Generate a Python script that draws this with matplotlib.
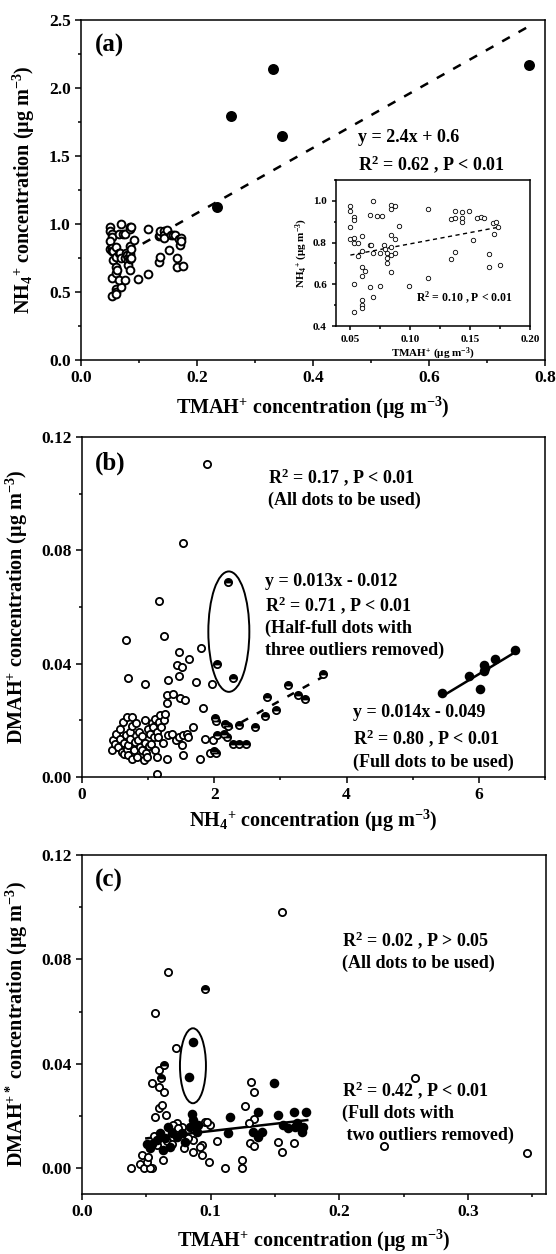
import matplotlib

matplotlib.use("Agg")
import matplotlib.pyplot as plt
from matplotlib.patches import Ellipse
from matplotlib.ticker import MultipleLocator, FormatStrFormatter
import numpy as np

W, H = 556, 1254

# ---- panel (a): TMAH+ vs NH4+ ----
tmah_a_open = [0.050, 0.050, 0.053, 0.053, 0.050, 0.050, 0.053, 0.053, 0.056, 0.056,
               0.053, 0.053, 0.060, 0.060, 0.060, 0.060, 0.062, 0.060, 0.060, 0.060,
               0.066, 0.067, 0.066, 0.069, 0.069, 0.069, 0.066, 0.072, 0.076, 0.075,
               0.075, 0.078, 0.079, 0.081, 0.081, 0.081, 0.084, 0.084, 0.087, 0.084,
               0.084, 0.084, 0.084, 0.087, 0.087, 0.091, 0.099, 0.115, 0.115, 0.134,
               0.134, 0.137, 0.137, 0.137, 0.143, 0.143, 0.143, 0.149, 0.152, 0.156,
               0.159, 0.162, 0.166, 0.166, 0.169, 0.170, 0.172, 0.173, 0.175]
nh4_a_open = [0.975, 0.951, 0.925, 0.906, 0.876, 0.817, 0.824, 0.800, 0.800, 0.736,
              0.600, 0.468, 0.830, 0.760, 0.683, 0.640, 0.663, 0.524, 0.500, 0.484,
              0.787, 0.790, 0.930, 0.997, 0.752, 0.540, 0.585, 0.927, 0.927, 0.752,
              0.590, 0.790, 0.771, 0.752, 0.726, 0.700, 0.981, 0.962, 0.975, 0.835,
              0.777, 0.740, 0.660, 0.819, 0.750, 0.880, 0.593, 0.960, 0.632, 0.913,
              0.720, 0.920, 0.950, 0.755, 0.946, 0.920, 0.900, 0.953, 0.810, 0.920,
              0.922, 0.920, 0.747, 0.683, 0.893, 0.843, 0.900, 0.875, 0.693]
tmah_a_full = [0.235, 0.259, 0.331, 0.347, 0.773]
nh4_a_full = [1.123, 1.797, 2.142, 1.647, 2.167]
fit_a = (2.4, 0.6)
fit_a_range = (0.05, 0.773)
fit_inset = (1.08, 0.686)
fit_inset_range = (0.05, 0.175)

# ---- panel (b): NH4+ vs DMAH+ ----
nh4_b_open = [1.89, 1.52, 1.16, 1.24, 0.66, 1.80, 1.46, 1.62, 1.44, 1.51,
              0.69, 1.30, 1.46, 1.72, 1.96, 0.95, 1.29, 1.37, 1.48, 1.55, 1.28,
              0.45, 0.47, 0.50, 0.52, 0.55, 0.57, 0.58, 0.60, 0.62, 0.63,
              0.64, 0.66, 0.675, 0.68, 0.70, 0.70, 0.72, 0.73, 0.75, 0.75,
              0.76, 0.78, 0.80, 0.82, 0.83, 0.85, 0.86, 0.88, 0.90, 0.91,
              0.93, 0.95, 0.96, 0.97, 0.99, 1.00, 1.02, 1.03, 1.05, 1.06,
              1.08, 1.09, 1.10, 1.11, 1.13, 1.13, 1.14, 1.15, 1.17, 1.18,
              1.20, 1.22, 1.24, 1.26, 1.28, 1.30, 1.36, 1.42, 1.46, 1.51,
              1.53, 1.53, 1.58, 1.60, 1.68, 1.78, 1.83, 1.86, 1.93, 1.98]
dmah_b_open = [0.1105, 0.0825, 0.0621, 0.0499, 0.0483, 0.0456, 0.0440, 0.0415, 0.0395, 0.0389,
               0.0348, 0.0341, 0.0356, 0.0336, 0.0330, 0.0327, 0.0289, 0.0292, 0.0279, 0.0273, 0.0262,
               0.0095, 0.0130, 0.0118, 0.0153, 0.0105, 0.0171, 0.0135, 0.0089, 0.0195, 0.0120,
               0.0080, 0.0150, 0.0212, 0.0100, 0.0112, 0.0077, 0.0159, 0.0135, 0.0212, 0.0065,
               0.0180, 0.0095, 0.0125, 0.0189, 0.0070, 0.0130, 0.0160, 0.0105, 0.0095, 0.0145,
               0.0059, 0.0201, 0.0120, 0.0085, 0.0071, 0.0170, 0.0110, 0.0153, 0.0118, 0.0190,
               0.0177, 0.0140, 0.0206, 0.0095, 0.0071, 0.0012, 0.0160, 0.0142, 0.0195, 0.0218,
               0.0177, 0.0120, 0.0200, 0.0221, 0.0065, 0.0150, 0.0153, 0.0130, 0.0142, 0.0112,
               0.0148, 0.0077, 0.0153, 0.0140, 0.0177, 0.0062, 0.0244, 0.0133, 0.0085, 0.0130]
nh4_b_half = [2.21, 2.045, 2.29, 3.64, 3.12, 2.79, 3.27, 3.37, 2.93, 2.76,
              2.61, 2.38, 2.16, 2.21, 2.01, 2.03, 2.04, 2.14, 2.19, 2.28,
              2.38, 2.48, 2.00, 2.03]
dmah_b_half = [0.0687, 0.0399, 0.0348, 0.0365, 0.0324, 0.0281, 0.0289, 0.0277, 0.0236, 0.0214,
               0.0177, 0.0183, 0.0187, 0.0180, 0.0210, 0.0198, 0.0148, 0.0151, 0.0142, 0.0116,
               0.0116, 0.0118, 0.0091, 0.0083]
nh4_b_full = [5.45, 5.85, 6.01, 6.08, 6.08, 6.10, 6.25, 6.55]
dmah_b_full = [0.0295, 0.0357, 0.0312, 0.0397, 0.0375, 0.0383, 0.0418, 0.0448]
fit_b_half = (0.013, -0.012)
fit_b_half_range = (1.95, 3.65)
fit_b_full = (0.0141, -0.0483)
fit_b_full_range = (5.45, 6.55)

# ---- panel (c): TMAH+ vs DMAH+* ----
tmah_c_open = [0.038, 0.045, 0.048, 0.054, 0.0528, 0.0502, 0.0464, 0.0515, 0.0632, 0.067,
               0.057, 0.073, 0.060, 0.054, 0.060, 0.064, 0.060, 0.0619, 0.057, 0.065,
               0.1556, 0.259, 0.2345, 0.346, 0.131, 0.134, 0.127, 0.1337, 0.130, 0.1307,
               0.1337, 0.152, 0.1556, 0.165, 0.099, 0.111, 0.1246, 0.1246, 0.105, 0.093,
               0.093, 0.0997, 0.0955, 0.086, 0.079, 0.074, 0.0775, 0.0865, 0.0826, 0.0917,
               0.0968, 0.0709, 0.0748, 0.056, 0.058, 0.066, 0.070]
dmah_c_open = [0.0, 0.0017, 0.0, 0.0, 0.0, 0.0025, 0.0051, 0.0044, 0.0032, 0.0751,
               0.0594, 0.0461, 0.0377, 0.0326, 0.0313, 0.0294, 0.0230, 0.0242, 0.0198, 0.0204,
               0.0980, 0.0345, 0.0087, 0.0060, 0.0330, 0.0291, 0.0239, 0.0190, 0.0175, 0.0098,
               0.0086, 0.0102, 0.0064, 0.0098, 0.0023, 0.0003, 0.0032, 0.0003, 0.0105, 0.0089,
               0.0051, 0.0166, 0.0179, 0.0064, 0.0077, 0.0172, 0.0160, 0.0108, 0.0115, 0.0083,
               0.0178, 0.0166, 0.0153, 0.0125, 0.0090, 0.0105, 0.0095]
tmah_c_half = [0.0958, 0.0637, 0.061]
dmah_c_half = [0.0687, 0.0396, 0.0347]
tmah_c_full = [0.0861, 0.0828, 0.149, 0.115, 0.1525, 0.1645, 0.174, 0.137, 0.0852, 0.1137,
               0.0502, 0.0541, 0.0528, 0.058, 0.0606, 0.0645, 0.0671, 0.0697, 0.0735, 0.0774,
               0.080, 0.0839, 0.0865, 0.0891, 0.0904, 0.0684, 0.0632, 0.1331, 0.137, 0.1396,
               0.1564, 0.1603, 0.1655, 0.1668, 0.172, 0.171]
dmah_c_full = [0.0485, 0.0349, 0.0328, 0.0198, 0.0203, 0.0216, 0.0216, 0.0217, 0.0210, 0.0134,
               0.0095, 0.0095, 0.0077, 0.0108, 0.0134, 0.0115, 0.0159, 0.0134, 0.0121, 0.0134,
               0.0102, 0.0159, 0.0185, 0.0140, 0.0166, 0.0083, 0.0070, 0.0140, 0.0121, 0.0140,
               0.0166, 0.0153, 0.0159, 0.0172, 0.0157, 0.0140]
fit_c = (0.056, 0.0087)
fit_c_range = (0.05, 0.175)

plt.rcParams.update({
    "font.family": "Liberation Serif",
    "font.weight": "bold",
    "axes.labelweight": "bold",
    "mathtext.fontset": "custom",
    "mathtext.rm": "Liberation Serif:bold",
    "mathtext.bf": "Liberation Serif:bold",
    "mathtext.it": "Liberation Serif:italic:bold",
    "mathtext.default": "rm",
    "axes.linewidth": 1.1,
})

UNIT = r"($\mathrm{\mu}$g m$^{-3}$)"


def box(left, top, right, bottom):
    return [left / W, 1 - bottom / H, (right - left) / W, (bottom - top) / H]


def style_axes(ax, xmaj, ymaj, xfmt, yfmt, size=12.5, major=4, minor=2.5):
    ax.xaxis.set_major_locator(MultipleLocator(xmaj))
    ax.xaxis.set_minor_locator(MultipleLocator(xmaj / 2))
    ax.yaxis.set_major_locator(MultipleLocator(ymaj))
    ax.yaxis.set_minor_locator(MultipleLocator(ymaj / 2))
    ax.xaxis.set_major_formatter(FormatStrFormatter(xfmt))
    ax.yaxis.set_major_formatter(FormatStrFormatter(yfmt))
    ax.tick_params(which="both", direction="out", top=False, right=False, width=1.1, labelsize=size)
    ax.tick_params(which="major", length=major)
    ax.tick_params(which="minor", length=minor)


def fit_line(ax, fit, xr, **kw):
    x = np.array(xr)
    ax.plot(x, fit[0] * x + fit[1], color="black", zorder=1, **kw)


def scatter(ax, x, y, kind, ms=5.2, mew=1.3):
    if kind == "open":
        ax.plot(x, y, "o", ms=ms, mfc="white", mec="black", mew=mew, zorder=2)
    elif kind == "half":
        ax.plot(x, y, "o", ms=ms, fillstyle="top", mfc="black", mfcalt="white",
                mec="black", mew=mew, zorder=3)
    else:
        ax.plot(x, y, "o", ms=ms + 0.4, mfc="black", mec="black", mew=mew, zorder=4)


def put(fig, x, y, s, size=13, **kw):
    fig.text(x / W, 1 - y / H, s, fontsize=size, va="center", ha="left", **kw)


def main() -> None:
    fig = plt.figure(figsize=(W / 100, H / 100), dpi=100)

    # (a)
    ax = fig.add_axes(box(81, 20, 545, 360))
    fit_line(ax, fit_a, fit_a_range, ls=(0, (3.5, 4)), lw=1.8)
    scatter(ax, tmah_a_open, nh4_a_open, "open", ms=5.6, mew=1.4)
    scatter(ax, tmah_a_full, nh4_a_full, "full", ms=6.2)
    ax.set_xlim(0, 0.8)
    ax.set_ylim(0, 2.5)
    style_axes(ax, 0.2, 0.5, "%.1f", "%.1f")
    ax.set_xlabel("TMAH$^{+}$ concentration " + UNIT, fontsize=14.5)
    ax.set_ylabel("NH$_{4}$$^{+}$ concentration " + UNIT, fontsize=14.5)
    ax.xaxis.set_label_coords(0.5, -0.102)
    ax.yaxis.set_label_coords(-0.095, 0.5)
    put(fig, 95, 45, "(a)", size=18)
    put(fig, 358, 137, "y = 2.4x + 0.6")
    put(fig, 358, 164, "R$^{2}$ = 0.62 , P < 0.01")

    ins = fig.add_axes(box(336, 180, 530, 326))
    fit_line(ins, fit_inset, fit_inset_range, ls=(0, (3, 2.5)), lw=1.0)
    ins.plot(tmah_a_open, nh4_a_open, "o", ms=3.2, mfc="white", mec="black", mew=0.6, zorder=2)
    ins.set_xlim(0.038, 0.2)
    ins.set_ylim(0.4, 1.1)
    style_axes(ins, 0.05, 0.2, "%.2f", "%.1f", size=8, major=3, minor=1.8)
    ins.set_xlabel("TMAH$^{+}$ " + UNIT, fontsize=8, labelpad=1)
    ins.set_ylabel("NH$_{4}$$^{+}$ " + UNIT, fontsize=8, labelpad=2)
    put(fig, 416, 298, "R$^{2}$ = 0.10 , P < 0.01", size=8.5)

    # (b)
    ax = fig.add_axes(box(82, 437, 545, 777))
    fit_line(ax, fit_b_half, fit_b_half_range, ls=(0, (3, 4)), lw=1.8)
    fit_line(ax, fit_b_full, fit_b_full_range, lw=1.8)
    scatter(ax, nh4_b_open, dmah_b_open, "open")
    scatter(ax, nh4_b_half, dmah_b_half, "half")
    scatter(ax, nh4_b_full, dmah_b_full, "full")
    ax.add_patch(Ellipse((2.22, 0.0513), 0.62, 0.0425, fill=False, ec="black", lw=1.4, zorder=5))
    ax.set_xlim(0, 7)
    ax.set_ylim(0, 0.12)
    style_axes(ax, 2, 0.04, "%d", "%.2f")
    ax.set_xlabel("NH$_{4}$$^{+}$ concentration " + UNIT, fontsize=14.5)
    ax.set_ylabel("DMAH$^{+}$ concentration " + UNIT, fontsize=14.5)
    ax.xaxis.set_label_coords(0.5, -0.09)
    ax.yaxis.set_label_coords(-0.112, 0.5)
    put(fig, 95, 463, "(b)", size=18)
    put(fig, 268, 477, "R$^{2}$ = 0.17 , P < 0.01")
    put(fig, 268, 500, "(All dots to be used)")
    put(fig, 265, 582, "y = 0.013x - 0.012")
    put(fig, 265, 605, "R$^{2}$ = 0.71 , P < 0.01")
    put(fig, 265, 628, "(Half-full dots with")
    put(fig, 265, 650, "three outliers removed)")
    put(fig, 353, 713, "y = 0.014x - 0.049")
    put(fig, 353, 738, "R$^{2}$ = 0.80 , P < 0.01")
    put(fig, 353, 762, "(Full dots to be used)")

    # (c)
    ax = fig.add_axes(box(82, 855, 546, 1194))
    fit_line(ax, fit_c, fit_c_range, lw=1.8)
    scatter(ax, tmah_c_open, dmah_c_open, "open")
    scatter(ax, tmah_c_half, dmah_c_half, "half")
    scatter(ax, tmah_c_full, dmah_c_full, "full")
    ax.add_patch(Ellipse((0.0862, 0.0393), 0.0202, 0.0287, fill=False, ec="black", lw=1.4, zorder=5))
    ax.set_xlim(0, 0.3605)
    ax.set_ylim(-0.0098, 0.12)
    style_axes(ax, 0.1, 0.04, "%.1f", "%.2f")
    ax.set_xlabel("TMAH$^{+}$ concentration " + UNIT, fontsize=14.5)
    ax.set_ylabel("DMAH$^{+*}$ concentration " + UNIT, fontsize=14.5)
    ax.xaxis.set_label_coords(0.5, -0.1)
    ax.yaxis.set_label_coords(-0.112, 0.5)
    put(fig, 95, 880, "(c)", size=18)
    put(fig, 342, 940, "R$^{2}$ = 0.02 , P > 0.05")
    put(fig, 342, 963, "(All dots to be used)")
    put(fig, 342, 1090, "R$^{2}$ = 0.42 , P < 0.01")
    put(fig, 342, 1113, "(Full dots with")
    put(fig, 342, 1135, " two outliers removed)")

    fig.savefig("out.png", dpi=100)


if __name__ == "__main__":
    main()
